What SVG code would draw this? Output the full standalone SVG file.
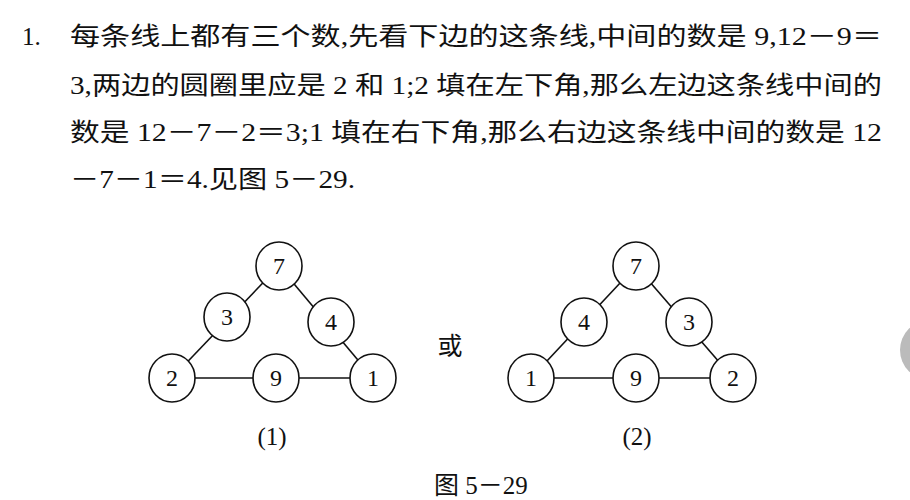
<svg xmlns="http://www.w3.org/2000/svg" width="910" height="500" viewBox="0 0 910 500">
<style>
.t{font-family:"Liberation Serif","Noto Sans CJK SC",serif;font-size:25px;fill:#111}
.n{font-family:"Liberation Serif",serif;font-size:24px;fill:#111;text-anchor:middle}
.c{fill:#fff;stroke:#111;stroke-width:1.6}
.l{stroke:#111;stroke-width:1.6}
</style>
<rect width="910" height="500" fill="#fff"/>
<circle cx="930" cy="350" r="30" fill="#bbb"/>
<text class="t" x="22" y="45">1.</text>
<text class="t" x="70" y="45" textLength="812" lengthAdjust="spacingAndGlyphs">每条线上都有三个数,先看下边的这条线,中间的数是 9,12－9＝</text>
<text class="t" x="70" y="94" textLength="812" lengthAdjust="spacingAndGlyphs">3,两边的圆圈里应是 2 和 1;2 填在左下角,那么左边这条线中间的</text>
<text class="t" x="70" y="141" textLength="812" lengthAdjust="spacingAndGlyphs">数是 12－7－2＝3;1 填在右下角,那么右边这条线中间的数是 12</text>
<text class="t" x="70" y="188" textLength="285" lengthAdjust="spacingAndGlyphs">－7－1＝4.见图 5－29.</text>
<g id="connectors">
<line class="l" x1="172" y1="378" x2="279" y2="266"/>
<line class="l" x1="373" y1="378" x2="279" y2="266"/>
<line class="l" x1="172" y1="378" x2="373" y2="378"/>
<line class="l" x1="531" y1="378" x2="636" y2="266"/>
<line class="l" x1="733" y1="378" x2="636" y2="266"/>
<line class="l" x1="531" y1="378" x2="733" y2="378"/>
</g>
<g id="d1-7"><ellipse class="c" cx="279" cy="266" rx="23" ry="24"/><text class="n" x="279" y="274">7</text></g>
<g id="d1-3"><ellipse class="c" cx="227" cy="317" rx="23" ry="24"/><text class="n" x="227" y="325">3</text></g>
<g id="d1-4"><ellipse class="c" cx="331" cy="322" rx="23" ry="24"/><text class="n" x="331" y="330">4</text></g>
<g id="d1-2"><ellipse class="c" cx="172" cy="378" rx="23" ry="24"/><text class="n" x="172" y="386">2</text></g>
<g id="d1-9"><ellipse class="c" cx="276" cy="378" rx="23" ry="24"/><text class="n" x="276" y="386">9</text></g>
<g id="d1-1"><ellipse class="c" cx="373" cy="378" rx="23" ry="24"/><text class="n" x="373" y="386">1</text></g>
<g id="d2-7"><ellipse class="c" cx="636" cy="266" rx="23" ry="24"/><text class="n" x="636" y="274">7</text></g>
<g id="d2-4"><ellipse class="c" cx="584" cy="322" rx="23" ry="24"/><text class="n" x="584" y="330">4</text></g>
<g id="d2-3"><ellipse class="c" cx="689" cy="322" rx="23" ry="24"/><text class="n" x="689" y="330">3</text></g>
<g id="d2-1"><ellipse class="c" cx="531" cy="378" rx="23" ry="24"/><text class="n" x="531" y="386">1</text></g>
<g id="d2-9"><ellipse class="c" cx="636" cy="378" rx="23" ry="24"/><text class="n" x="636" y="386">9</text></g>
<g id="d2-2"><ellipse class="c" cx="733" cy="378" rx="23" ry="24"/><text class="n" x="733" y="386">2</text></g>
<text class="t" x="450" y="355" text-anchor="middle">或</text>
<text class="t" x="272" y="445" text-anchor="middle">(1)</text>
<text class="t" x="637" y="445" text-anchor="middle">(2)</text>
<text class="t" x="481" y="494" text-anchor="middle">图 5－29</text>
</svg>
